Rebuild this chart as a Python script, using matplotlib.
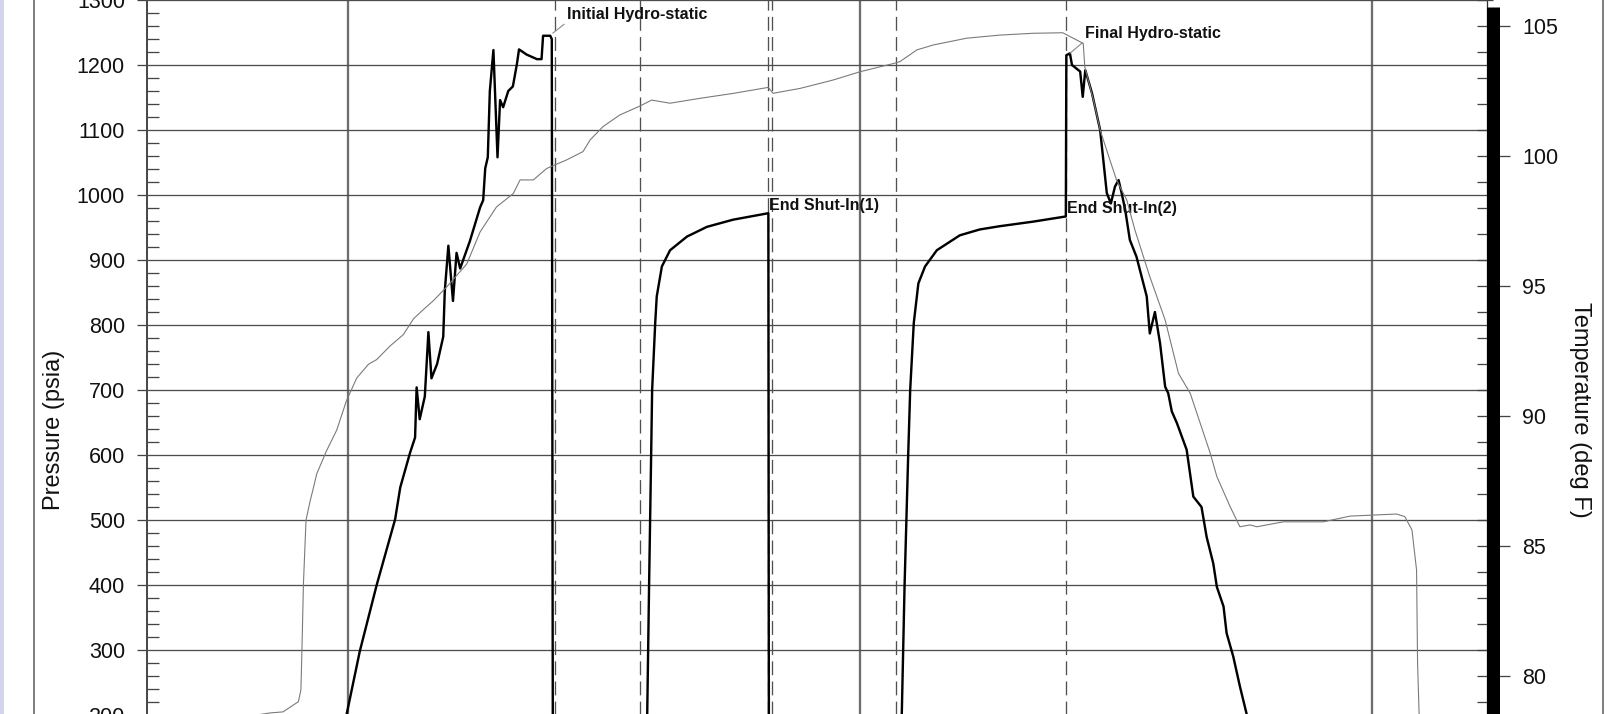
import matplotlib
matplotlib.use("Agg")
import matplotlib.pyplot as plt
from matplotlib.ticker import MultipleLocator, FixedLocator
from matplotlib.lines import Line2D
from matplotlib.patches import Rectangle

plt.rcParams['font.family'] = ['Liberation Sans', 'DejaVu Sans']
plt.rcParams['lines.scale_dashes'] = False

# ---------------- data ----------------
pressure_time_h = [10.997, 11.023, 11.056, 11.092, 11.102, 11.121, 11.131, 11.134, 11.140, 11.150,
                   11.157, 11.163, 11.174, 11.186, 11.189, 11.196, 11.205, 11.212, 11.219, 11.238,
                   11.258, 11.264, 11.268, 11.273, 11.277, 11.284, 11.292, 11.297, 11.303, 11.313,
                   11.322, 11.330, 11.334, 11.349, 11.369, 11.378, 11.381, 11.395, 11.398, 11.400,
                   11.584, 11.588, 11.592, 11.594, 11.600, 11.603, 11.613, 11.629, 11.662, 11.701,
                   11.752, 11.821, 11.822,
                   12.081, 12.087, 12.094, 12.098, 12.105, 12.114, 12.127, 12.150, 12.195, 12.234,
                   12.273, 12.338, 12.402, 12.403, 12.410, 12.414, 12.430, 12.435, 12.440, 12.453,
                   12.469, 12.482, 12.490, 12.498, 12.505, 12.511, 12.518, 12.527, 12.540, 12.560,
                   12.566, 12.576, 12.586, 12.596, 12.602, 12.609, 12.619, 12.638, 12.651, 12.667,
                   12.677, 12.690, 12.697, 12.710, 12.716, 12.729, 12.742, 12.755, 12.762]
pressure_psia = [200, 298, 400, 501, 550, 603, 627, 704, 655, 690,
                 789, 718, 740, 782, 852, 922, 837, 911, 887, 929,
                 981, 992, 1041, 1058, 1160, 1223, 1058, 1146, 1135, 1160,
                 1167, 1202, 1224, 1216, 1209, 1209, 1245, 1245, 1240, 180,
                 180, 398, 597, 700, 803, 844, 890, 915, 936, 951,
                 962, 972, 180,
                 180, 398, 597, 700, 803, 864, 890, 915, 938, 947,
                 952, 959, 967, 1215, 1218, 1200, 1190, 1151, 1192, 1157,
                 1100, 1003, 987, 1013, 1023, 1003, 977, 931, 905, 844,
                 787, 820, 772, 705, 695, 667, 649, 608, 536, 520,
                 474, 433, 397, 367, 326, 290, 244, 202, 170]

temp_time_h = [10.809, 10.848, 10.873, 10.903, 10.908, 10.910, 10.913, 10.918, 10.926, 10.933,
               10.939, 10.958, 10.978, 10.997, 11.017, 11.040, 11.056, 11.082, 11.108, 11.128,
               11.147, 11.167, 11.193, 11.232, 11.258, 11.290, 11.323, 11.336, 11.362, 11.388,
               11.408, 11.427, 11.459, 11.473, 11.498, 11.531, 11.570, 11.593, 11.629, 11.688,
               11.753, 11.821, 11.830, 11.883, 11.947, 12.000, 12.068, 12.078, 12.111, 12.143,
               12.208, 12.273, 12.338, 12.396, 12.436, 12.439, 12.456, 12.469, 12.488, 12.501,
               12.521, 12.537, 12.566, 12.596, 12.622, 12.645, 12.684, 12.697, 12.723, 12.742,
               12.762, 12.775, 12.827, 12.905, 12.957, 13.048, 13.064, 13.078, 13.087, 13.089,
               13.092, 13.094]
temp_degF = [78.46, 78.58, 78.62, 79.01, 79.46, 81.00, 83.58, 86.00, 86.73, 87.28,
             87.78, 88.66, 89.46, 90.59, 91.46, 91.99, 92.17, 92.69, 93.13, 93.74,
             94.09, 94.44, 94.97, 95.85, 97.08, 98.04, 98.56, 99.08, 99.08, 99.52,
             99.69, 99.85, 100.17, 100.62, 101.13, 101.58, 101.92, 102.15, 102.03, 102.22,
             102.41, 102.64, 102.41, 102.60, 102.92, 103.24, 103.57, 103.63, 104.08, 104.27,
             104.53, 104.65, 104.72, 104.74, 104.33, 103.43, 102.15, 101.00, 99.85, 99.08,
             98.31, 97.15, 95.36, 93.69, 91.64, 90.87, 88.57, 87.67, 86.51, 85.74,
             85.81, 85.74, 85.93, 85.93, 86.15, 86.23, 86.13, 85.62, 84.08, 80.50,
             78.54, 77.92]

event_times_h = [11.404, 11.570, 11.820, 11.828, 12.070, 12.402]
hour_grid = [11, 12, 13]
pressure_ticks = list(range(200, 1400, 100))
temp_ticks = [80, 85, 90, 95, 100, 105]
label_initial = "Initial Hydro-static"
label_final = "Final Hydro-static"
label_esi1 = "End Shut-In(1)"
label_esi2 = "End Shut-In(2)"

# ---------------- figure ----------------
W, H = 1622, 714
px = 0.72  # points per pixel at dpi 100
fig = plt.figure(figsize=(W / 100, H / 100), dpi=100, facecolor='white')

ax = fig.add_axes([147 / W, 1 - 715 / H, (1487 - 147) / W, 715 / H])
ax.set_xlim(10.6074, 13.2246)
ax.set_ylim(200, 1300)
ax2 = ax.twinx()
ax2.set_ylim(78.5, 106.0)

# gridlines
ax.set_xticks(hour_grid)
ax.yaxis.set_major_locator(FixedLocator(pressure_ticks))
ax.yaxis.set_minor_locator(MultipleLocator(20))
ax.grid(axis='y', which='major', color='#4d4d4d', lw=1.3 * px)
ax.grid(axis='x', which='major', color='#6e6e6e', lw=2.3 * px)
ax.set_axisbelow(True)

ax.tick_params(axis='x', which='both', length=0, labelbottom=False)
ax.tick_params(axis='y', which='major', direction='out', length=10 * px, width=1.3 * px,
               color='#444444', labelsize=15.5, pad=12 * px, labelcolor='#111111')
ax.tick_params(axis='y', which='minor', direction='in', length=12 * px, width=1.3 * px,
               color='#444444')

for s in ('top', 'bottom'):
    ax.spines[s].set_visible(False)
ax.spines['left'].set_color('#4a4a4a')
ax.spines['left'].set_linewidth(2.0 * px)
ax.spines['right'].set_color('#333333')
ax.spines['right'].set_linewidth(1.3 * px)

# event markers
for t in event_times_h:
    ax.axvline(t, color='#505050', lw=1.3 * px, dashes=(10, 4.5), zorder=1.5)

# data lines
ax.plot(pressure_time_h, pressure_psia, color='black', lw=2.4 * px, zorder=3)
ax2.plot(temp_time_h, temp_degF, color='#7a7a7a', lw=1.1 * px, zorder=2)

# right (temperature) axis
for s in ('left', 'top', 'bottom'):
    ax2.spines[s].set_visible(False)
sp = ax2.spines['right']
sp.set_position(('outward', 6.5 * px))
sp.set_linewidth(13 * px)
sp.set_color('black')
sp.set_capstyle('butt')
sp.set_bounds(77.0, 105.73)
ax2.yaxis.set_major_locator(FixedLocator(temp_ticks))
ax2.yaxis.set_minor_locator(MultipleLocator(1))
ax2.tick_params(axis='y', which='major', direction='inout', length=33 * px, width=1.3 * px,
                color='#444444', labelsize=15.5, pad=12 * px, labelcolor='#111111')
ax2.tick_params(axis='y', which='minor', direction='in', length=16.5 * px, width=1.3 * px,
                color='#444444')

# annotations
ann_kw = dict(fontsize=11.5, fontweight='bold', color='#111111', ha='left', va='center')
ax.annotate(label_initial, xy=(11.400, 1249), xytext=(11.4277, 1277.7),
            arrowprops=dict(arrowstyle='-', color='#8a8a8a', lw=0.8, shrinkA=0, shrinkB=0,
                            relpos=(0, 0)), zorder=4, **ann_kw)
ax.annotate(label_final, xy=(12.410, 1218), xytext=(12.4395, 1249.2),
            arrowprops=dict(arrowstyle='-', color='#8a8a8a', lw=0.8, shrinkA=0, shrinkB=0,
                            relpos=(0, 0)), zorder=4, **ann_kw)
ax.text(11.8229, 984.6, label_esi1, zorder=4, **ann_kw)
ax.text(12.4037, 979.5, label_esi2, zorder=4, **ann_kw)

# axis titles
fig.text(54 / W, 1 - 430 / H, "Pressure (psia)", rotation=90, ha='center', va='center',
         fontsize=17, color='#111111')
fig.text(1580 / W, 1 - 410 / H, "Temperature (deg F)", rotation=270, ha='center', va='center',
         fontsize=17, color='#111111')

# page frame
fig.patches.append(Rectangle((0, 0), 4 / W, 1, transform=fig.transFigure,
                             facecolor='#d4d4ec', edgecolor='none'))
fig.add_artist(Line2D([34 / W, 34 / W], [0, 1], color='#808080', lw=2 * px))
fig.add_artist(Line2D([1603 / W, 1603 / W], [0, 1], color='#808080', lw=2 * px))

fig.savefig('out.png', dpi=100, facecolor='white')
